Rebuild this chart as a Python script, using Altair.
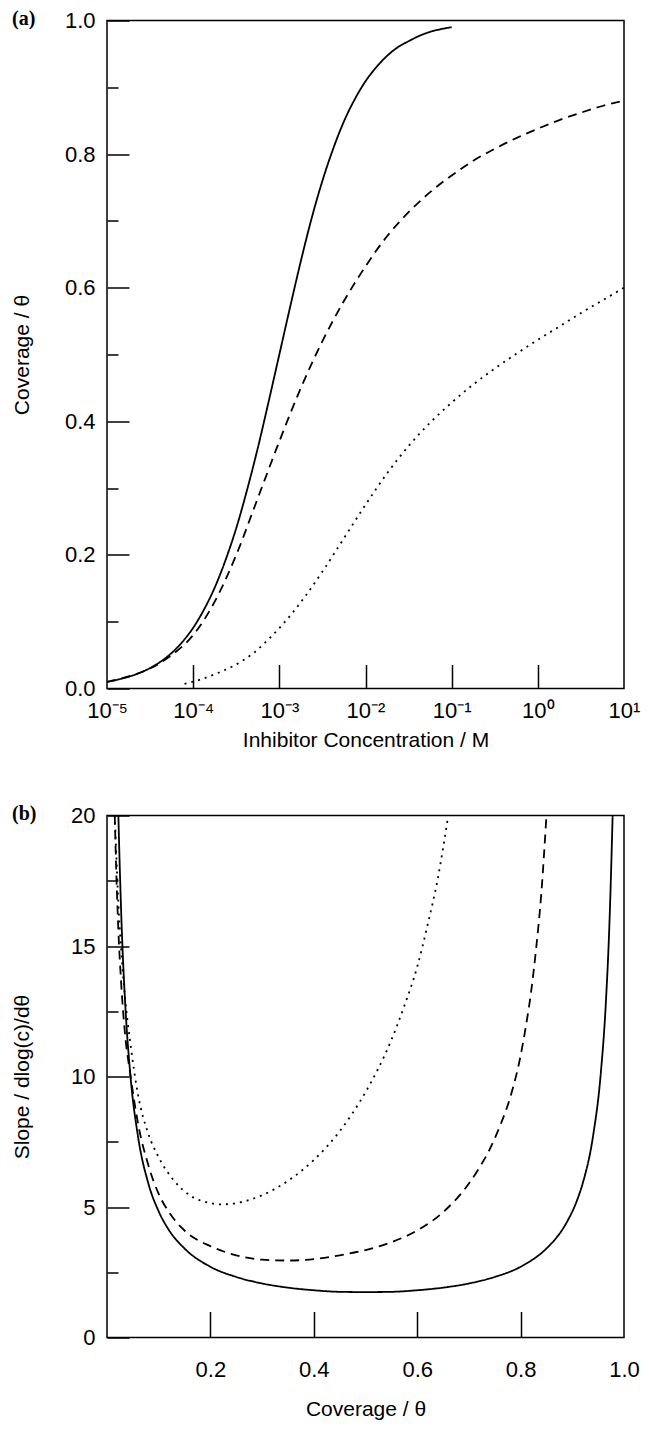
import altair as alt
import pandas as pd

# ---------------- Panel (a): coverage vs log10(concentration) ----------------
a_solid_logc = [-5, -4.875, -4.75, -4.625, -4.5, -4.375, -4.25, -4.125, -4,
                -3.875, -3.75, -3.625, -3.5, -3.375, -3.25, -3.125, -3, -2.875,
                -2.75, -2.625, -2.5, -2.375, -2.25, -2.125, -2, -1.875, -1.75,
                -1.625, -1.5, -1.375, -1.25, -1.125, -1]
a_solid_theta = [0.0099, 0.0132, 0.0175, 0.0232, 0.0306, 0.0405, 0.0532, 0.0698,
                 0.0909, 0.118, 0.151, 0.192, 0.240, 0.297, 0.360, 0.429, 0.500,
                 0.571, 0.640, 0.704, 0.760, 0.808, 0.849, 0.882, 0.909, 0.930,
                 0.947, 0.960, 0.969, 0.977, 0.983, 0.987, 0.990]

a_dash_logc = [-5, -4.75, -4.5, -4.25, -4, -3.75, -3.5, -3.25, -3, -2.75, -2.5,
               -2.25, -2, -1.75, -1.5, -1.25, -1, -0.75, -0.5, -0.25, 0, 0.25,
               0.5, 0.75, 1]
a_dash_theta = [0.010, 0.018, 0.030, 0.050, 0.080, 0.130, 0.200, 0.285, 0.370,
                0.450, 0.520, 0.580, 0.632, 0.677, 0.713, 0.743, 0.768, 0.790,
                0.808, 0.824, 0.838, 0.851, 0.862, 0.872, 0.880]

a_dot_logc = [-4.1, -3.9, -3.7, -3.5, -3.3, -3.1, -2.9, -2.7, -2.5, -2.25, -2,
              -1.75, -1.5, -1.25, -1, -0.75, -0.5, -0.25, 0, 0.25, 0.5, 0.75, 1]
a_dot_theta = [0.007, 0.014, 0.024, 0.036, 0.053, 0.077, 0.105, 0.138, 0.175,
               0.225, 0.275, 0.322, 0.363, 0.398, 0.428, 0.455, 0.479, 0.501,
               0.522, 0.542, 0.562, 0.581, 0.600]

a_x_ticks = [-5, -4, -3, -2, -1, 0, 1]
a_x_inner_ticks = [-4, -3, -2, -1, 0]
a_y_major = [0, 0.2, 0.4, 0.6, 0.8, 1.0]
a_y_minor = [0.1, 0.3, 0.5, 0.7, 0.9]
sup_labels = ["⁻⁵", "⁻⁴", "⁻³", "⁻²", "⁻¹", "⁰", "¹"]

# ---------------- Panel (b): slope vs coverage ----------------
b_solid_theta = [0.022, 0.024, 0.028, 0.035, 0.045, 0.06, 0.08, 0.1, 0.12, 0.15,
                 0.2, 0.25, 0.3, 0.35, 0.4, 0.45, 0.5, 0.55, 0.6, 0.65, 0.7, 0.75,
                 0.8, 0.85, 0.87, 0.88, 0.89, 0.91, 0.92, 0.94, 0.955, 0.965,
                 0.972, 0.976, 0.978]
b_solid_slope = [20, 18.5, 15.96, 12.86, 10.1, 7.70, 5.90, 4.83, 4.11, 3.41,
                 2.71, 2.32, 2.07, 1.91, 1.81, 1.75, 1.74, 1.75, 1.81, 1.91, 2.07,
                 2.32, 2.71, 3.41, 3.84, 4.11, 4.44, 5.30, 5.90, 7.70, 10.1, 12.86,
                 15.96, 18.54, 20]

b_dash_theta = [0.015, 0.018, 0.022, 0.027, 0.035, 0.045, 0.06, 0.08, 0.1, 0.12,
                0.15, 0.2, 0.25, 0.3, 0.35, 0.4, 0.45, 0.5, 0.55, 0.6, 0.65, 0.7,
                0.72, 0.74, 0.76, 0.78, 0.8, 0.81, 0.82, 0.83, 0.84, 0.85]
b_dash_slope = [20, 17.8, 15.6, 13.7, 11.6, 10.1, 8.2, 6.6, 5.5, 4.8, 4.1, 3.5,
                3.15, 2.98, 2.95, 3.0, 3.15, 3.35, 3.65, 4.1, 4.8, 5.9, 6.5, 7.2,
                8.1, 9.2, 10.8, 11.9, 13.2, 14.9, 17.0, 20]

b_dot_theta = [0.015, 0.018, 0.022, 0.027, 0.035, 0.045, 0.06, 0.08, 0.1, 0.13,
               0.16, 0.2, 0.22, 0.25, 0.3, 0.35, 0.4, 0.45, 0.5, 0.55, 0.575, 0.6,
               0.62, 0.64, 0.66]
b_dot_slope = [20, 18.5, 16.6, 15.0, 13.0, 11.3, 9.3, 7.8, 6.9, 6.0, 5.45, 5.15,
               5.1, 5.15, 5.45, 6.0, 6.8, 7.9, 9.4, 11.4, 12.7, 14.2, 15.8, 17.6, 20]

b_x_labels = [0.2, 0.4, 0.6, 0.8, 1.0]
b_x_inner_ticks = [0.2, 0.4, 0.6, 0.8]
b_y_major = [0, 5, 10, 15, 20]
b_y_minor = [2.5, 7.5, 12.5, 17.5]

series_order = ["solid", "dashed", "dotted"]
dash_range = [[1, 0], [9, 6], [2, 5]]

FONT = "Liberation Sans"
W = 517
HA = 668
HB = 522


def make_df(groups):
    rows = []
    for name, xs, ys in groups:
        for i, (xv, yv) in enumerate(zip(xs, ys)):
            rows.append({"x": xv, "y": yv, "series": name, "order": i})
    return pd.DataFrame(rows)


def tick_axis(orient, values, size):
    return alt.Axis(orient=orient, values=values, tickSize=size, offset=-size,
                    labels=False, domain=False, grid=False, title=None,
                    ticks=True, tickColor="black", tickWidth=1.5)


def panel(df, xscale, yscale, xlab_axis, ylab_axis, x_inner, y_major, y_minor,
          xlen, ylen_major, ylen_minor, tag, width, height):
    base = alt.Chart(df)
    lines = base.mark_line(color="black", strokeWidth=1.8, clip=True,
                           interpolate="monotone").encode(
        x=alt.X("x:Q", scale=xscale, axis=xlab_axis),
        y=alt.Y("y:Q", scale=yscale, axis=ylab_axis),
        strokeDash=alt.StrokeDash("series:N",
                                  scale=alt.Scale(domain=series_order, range=dash_range),
                                  legend=None),
        order="order:Q",
    )
    t1 = base.mark_point(opacity=0, size=1).encode(
        x=alt.X("x:Q", scale=xscale, axis=tick_axis("bottom", x_inner, xlen)),
        y=alt.Y("y:Q", scale=yscale, axis=tick_axis("left", y_major, ylen_major)),
    )
    t2 = base.mark_point(opacity=0, size=1).encode(
        x=alt.X("x:Q", scale=xscale, axis=None),
        y=alt.Y("y:Q", scale=yscale, axis=tick_axis("left", y_minor, ylen_minor)),
    )
    label = alt.Chart(pd.DataFrame({"t": [tag]})).mark_text(
        align="left", baseline="middle", font="Liberation Serif",
        fontWeight="bold", fontSize=20, color="black"
    ).encode(text="t:N", x=alt.value(-95), y=alt.value(-2))
    return alt.layer(lines, t1, t2, label).resolve_axis(
        x="independent", y="independent"
    ).properties(width=width, height=height)


dfa = make_df([
    ("solid", a_solid_logc, a_solid_theta),
    ("dashed", a_dash_logc, a_dash_theta),
    ("dotted", a_dot_logc, a_dot_theta),
])
dfb = make_df([
    ("solid", b_solid_theta, b_solid_slope),
    ("dashed", b_dash_theta, b_dash_slope),
    ("dotted", b_dot_theta, b_dot_slope),
])

sup_js = "[" + ",".join("'%s'" % s for s in sup_labels) + "]"

axa_x = alt.Axis(orient="bottom", values=a_x_ticks, ticks=False, tickSize=0,
                 domain=False, grid=False, labelPadding=12, labelFlush=False,
                 labelOverlap=False,
                 labelExpr="'10' + " + sup_js + "[round(datum.value) + 5]",
                 title="Inhibitor Concentration / M", titlePadding=8)
axa_y = alt.Axis(orient="left", values=a_y_major, ticks=False, tickSize=0,
                 domain=False, grid=False, labelPadding=12, labelFlush=False,
                 labelOverlap=False, format=".1f",
                 title="Coverage / θ", titlePadding=32)

axb_x = alt.Axis(orient="bottom", values=b_x_labels, ticks=False, tickSize=0,
                 domain=False, grid=False, labelPadding=22, labelFlush=False,
                 labelOverlap=False, format=".1f",
                 title="Coverage / θ", titlePadding=18)
axb_y = alt.Axis(orient="left", values=b_y_major, ticks=False, tickSize=0,
                 domain=False, grid=False, labelPadding=12, labelFlush=False,
                 labelOverlap=False, format="d",
                 title="Slope / dlog(c)/dθ", titlePadding=38)

pa = panel(dfa,
           alt.Scale(domain=[-5, 1], nice=False, zero=False),
           alt.Scale(domain=[0, 1], nice=False),
           axa_x, axa_y, a_x_inner_ticks, a_y_major, a_y_minor,
           24, 22, 11, "(a)", W, HA)
pb = panel(dfb,
           alt.Scale(domain=[0, 1], nice=False),
           alt.Scale(domain=[0, 20], nice=False),
           axb_x, axb_y, b_x_inner_ticks, b_y_major, b_y_minor,
           26, 22, 11, "(b)", W, HB)

chart = alt.vconcat(pa, pb, spacing=51).properties(
    padding={"left": 2, "top": -0.5, "right": 0, "bottom": 0},
    background="white",
).configure_view(
    stroke="black", strokeWidth=1.5
).configure_axis(
    labelFont=FONT, labelFontSize=22, labelColor="black",
    titleFont=FONT, titleFontSize=21, titleColor="black", titleFontWeight="normal",
)

chart.save("out.html", embed_options={"renderer": "svg", "actions": False})
